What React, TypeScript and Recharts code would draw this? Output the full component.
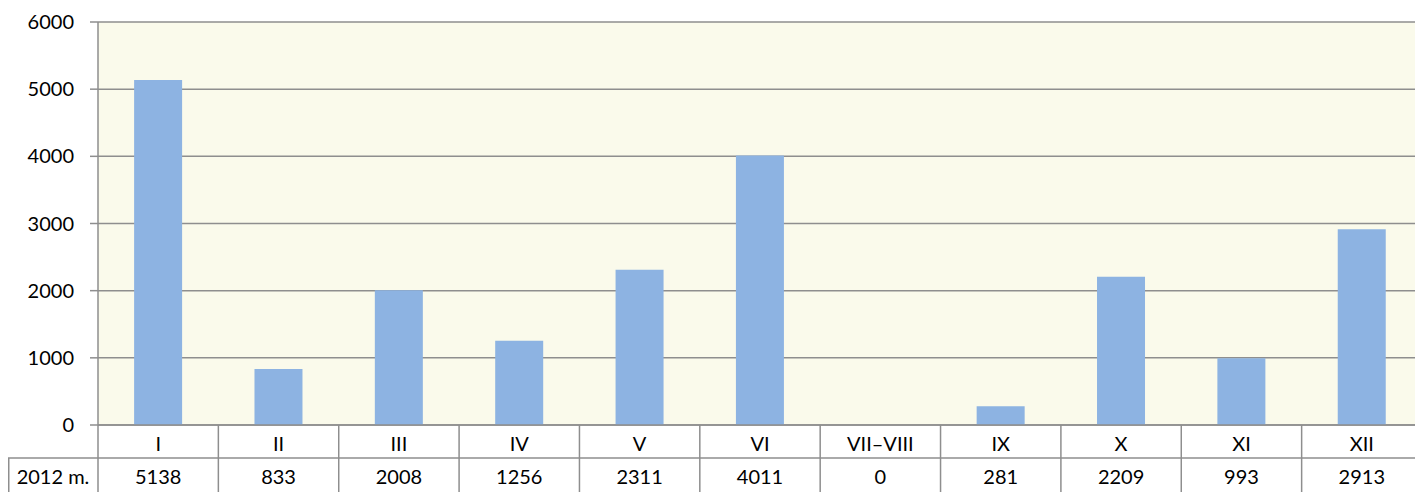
import { BarChart, Bar, XAxis, YAxis, CartesianGrid } from "recharts"

const categories = ["I", "II", "III", "IV", "V", "VI", "VII–VIII", "IX", "X", "XI", "XII"]
const values2012 = [5138, 833, 2008, 1256, 2311, 4011, 0, 281, 2209, 993, 2913]
const yTicks = [0, 1000, 2000, 3000, 4000, 5000, 6000]
const seriesName = "2012 m."

// the original's plot runs a little past the right edge of the window
const VIEW_W = 1415
const VIEW_H = 492
const W = 1422
const H = 494
const AXIS_W = 98
const CELL_LEFT = 8
const PLOT_TOP = 22
const PLOT_BOTTOM = 425
const ROW_H = 33
const BAND = (W - AXIS_W) / categories.length
const LINE = "#8e8e8e"
const FONT = "Lato, 'Noto Sans', sans-serif"

const data = categories.map((name, i) => ({ name, value: values2012[i] }))

function TableTick(props: any) {
  const { x, index, payload } = props
  const left = x - BAND / 2
  return (
    <g>
      <line x1={left} x2={left} y1={PLOT_BOTTOM} y2={H} stroke={LINE} strokeWidth={1.5} />
      <text x={x} y={PLOT_BOTTOM + ROW_H / 2 + 1} textAnchor="middle" dominantBaseline="central" fontSize={20} fill="#000" fontFamily={FONT}>
        {payload.value}
      </text>
      <text x={x} y={PLOT_BOTTOM + ROW_H * 1.5 + 1} textAnchor="middle" dominantBaseline="central" fontSize={20} fill="#000" fontFamily={FONT}>
        {values2012[index]}
      </text>
      {index === 0 && (
        <g>
          <line x1={CELL_LEFT} x2={W} y1={PLOT_BOTTOM + ROW_H} y2={PLOT_BOTTOM + ROW_H} stroke={LINE} strokeWidth={1.5} />
          <line x1={CELL_LEFT + 0.75} x2={CELL_LEFT + 0.75} y1={PLOT_BOTTOM + ROW_H} y2={H} stroke={LINE} strokeWidth={1.5} />
          <text x={(CELL_LEFT + AXIS_W) / 2} y={PLOT_BOTTOM + ROW_H * 1.5 + 1} textAnchor="middle" dominantBaseline="central" fontSize={20} fill="#000" fontFamily={FONT}>
            {seriesName}
          </text>
        </g>
      )}
    </g>
  )
}

export default function App() {
  return (
    <div style={{ position: "fixed", left: 0, top: 0, width: VIEW_W, height: VIEW_H, overflow: "hidden", background: "#fff" }}>
      <BarChart
        width={W}
        height={H}
        data={data}
        margin={{ top: PLOT_TOP, right: 0, bottom: 0, left: 0 }}
        barCategoryGap="30%"
      >
        <CartesianGrid vertical={false} fill="#fafaeb" stroke={LINE} strokeWidth={1.5} />
        <XAxis
          dataKey="name"
          axisLine={{ stroke: LINE, strokeWidth: 1.5 }}
          tickLine={false}
          tick={<TableTick />}
          interval={0}
          height={H - PLOT_BOTTOM}
        />
        <YAxis
          domain={[0, 6000]}
          ticks={yTicks}
          width={AXIS_W}
          axisLine={{ stroke: LINE, strokeWidth: 1.5 }}
          tickLine={{ stroke: LINE, strokeWidth: 1.5 }}
          tickSize={8}
          tickMargin={16}
          tick={{ fontSize: 20, fill: "#000", fontFamily: FONT }}
        />
        <Bar dataKey="value" fill="#8db3e2" isAnimationActive={false} />
      </BarChart>
    </div>
  )
}
